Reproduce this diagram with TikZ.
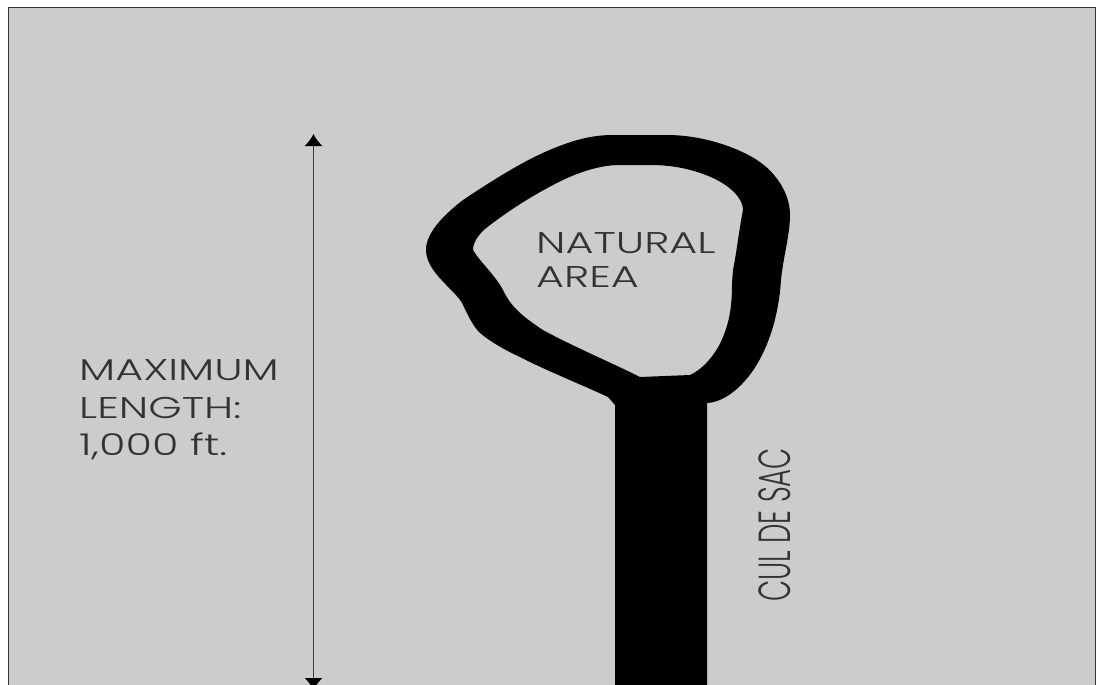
\documentclass[tikz,border=0pt]{standalone}
\usepackage{fontspec}
\setmainfont[FakeStretch=1.43,UprightFont=* Light]{Poppins}
\newfontfamily\narrowfont[FakeStretch=0.61,UprightFont=* Light]{Poppins}
\usepackage{tikz}
\usetikzlibrary{positioning,arrows.meta}

\begin{document}
\begin{tikzpicture}[
    x=1pt, y=-1pt,
    panel/.style={draw=black!80, line width=1pt, fill=black!20},
    road/.style={fill=black, even odd rule},
    label/.style={text=black!80, font=\fontsize{30}{37.5}\selectfont, align=left, inner sep=0pt},
    arrow/.style={{Latex[length=12pt,width=18pt,color=black]}-{Latex[length=12pt,width=18pt,color=black]}, line width=1.2pt, draw=black!75}
]
\useasboundingbox (0,0) rectangle (1100,685);
\draw[panel] (8.5,7.5) rectangle (1095,700);
% loop road with the shaft running off the page
\fill[road]
    (615,700) -- (615,405) -- (608,397)
    .. controls (580,384) and (545,370) .. (520,357)
    .. controls (507,351) and (492,343) .. (480,333)
    .. controls (472,325) and (468,315) .. (462,303)
    .. controls (455,290) and (426,272) .. (426,250)
    .. controls (426,232) and (445,214) .. (463,200)
    .. controls (490,182) and (520,163) .. (545,152)
    .. controls (570,141) and (590,135) .. (613,135)
    -- (667,135)
    .. controls (700,135) and (735,146) .. (757,160)
    .. controls (778,174) and (790,195) .. (790,215)
    .. controls (790,235) and (783,258) .. (781,280)
    .. controls (779,310) and (772,335) .. (762,355)
    .. controls (750,380) and (728,402) .. (707,403)
    -- (707,700) -- cycle
    (640,377) -- (690,375)
    .. controls (705,368) and (717,352) .. (723,337)
    .. controls (730,320) and (732,305) .. (732,283)
    -- (733,270)
    .. controls (737,250) and (739,230) .. (743,210)
    .. controls (743,198) and (730,186) .. (713,178)
    .. controls (695,170) and (675,165) .. (650,165)
    -- (620,165)
    .. controls (595,165) and (570,176) .. (553,185)
    .. controls (530,197) and (505,213) .. (485,229)
    .. controls (478,235) and (473,243) .. (473,250)
    .. controls (480,262) and (495,275) .. (503,290)
    .. controls (510,305) and (520,315) .. (543,330)
    .. controls (570,345) and (610,362) .. (640,377)
    -- cycle;
\node[label, anchor=base west] (natural) at (536,287) {NATURAL\\[-3.5pt]AREA};
\node[label, anchor=west] (maximum) at (79,410) {MAXIMUM\\LENGTH:\\1,000 ft.};
\node[label, anchor=center, rotate=90, font=\narrowfont\fontsize{45}{45}\selectfont] (culdesac) at (775,525) {CUL DE SAC};
\coordinate (top) at (313.5,134);
\coordinate (bottom) at (313.5,690);
\draw[arrow] (top) -- (bottom);
\end{tikzpicture}
\end{document}
